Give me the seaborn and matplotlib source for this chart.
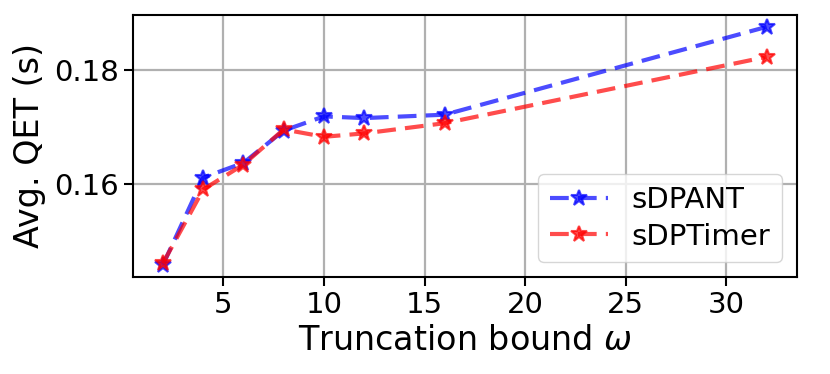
import matplotlib
matplotlib.use("Agg")
import matplotlib.pyplot as plt
import seaborn as sns
import pandas as pd

# Data
omega = [2, 4, 6, 8, 10, 12, 16, 32]
sdpant = [0.1457, 0.1611, 0.1637, 0.1694, 0.1719, 0.1716, 0.1722, 0.1877]
sdptimer = [0.1460, 0.1590, 0.1634, 0.1696, 0.1683, 0.1689, 0.1707, 0.1824]

df = pd.concat([
    pd.DataFrame({"omega": omega, "qet": sdpant, "method": "sDPANT"}),
    pd.DataFrame({"omega": omega, "qet": sdptimer, "method": "sDPTimer"}),
])

sns.set_style("ticks")
plt.rcParams["font.family"] = ["DejaVu Sans"]
plt.rcParams["text.color"] = "black"
plt.rcParams["axes.labelcolor"] = "black"
plt.rcParams["xtick.color"] = "black"
plt.rcParams["ytick.color"] = "black"

fig, ax = plt.subplots(figsize=(8.3, 3.74), dpi=100)
colors = {"sDPANT": "blue", "sDPTimer": "red"}
for name, c in colors.items():
    sns.lineplot(data=df[df["method"] == name], x="omega", y="qet",
                 color=c, label=name, dashes=False,
                 linestyle=(0, (4.5, 2.2)), marker="*", markersize=12,
                 linewidth=3, alpha=0.7, markeredgecolor=c,
                 markeredgewidth=1.5, ax=ax)

ax.grid(True, color="#b0b0b0", linewidth=1.6)
ax.set_axisbelow(True)
ax.set_xticks([5, 10, 15, 20, 25, 30])
ax.set_yticks([0.16, 0.18])
ax.tick_params(labelsize=21, width=1.5, length=6.5)
for s in ax.spines.values():
    s.set_linewidth(1.5)
    s.set_color("black")
ax.set_xlabel("Truncation bound $\\omega$", fontsize=24, labelpad=4)
ax.set_ylabel("Avg. QET (s)", fontsize=24, labelpad=6)
ax.margins(x=0.05, y=0.05)
ax.legend(loc="lower right", fontsize=21, framealpha=0.8,
          borderpad=0.4, handlelength=2.0, labelspacing=0.3)

plt.subplots_adjust(left=0.16, right=0.96, bottom=0.26, top=0.96)
fig.savefig("out.png", dpi=100)
